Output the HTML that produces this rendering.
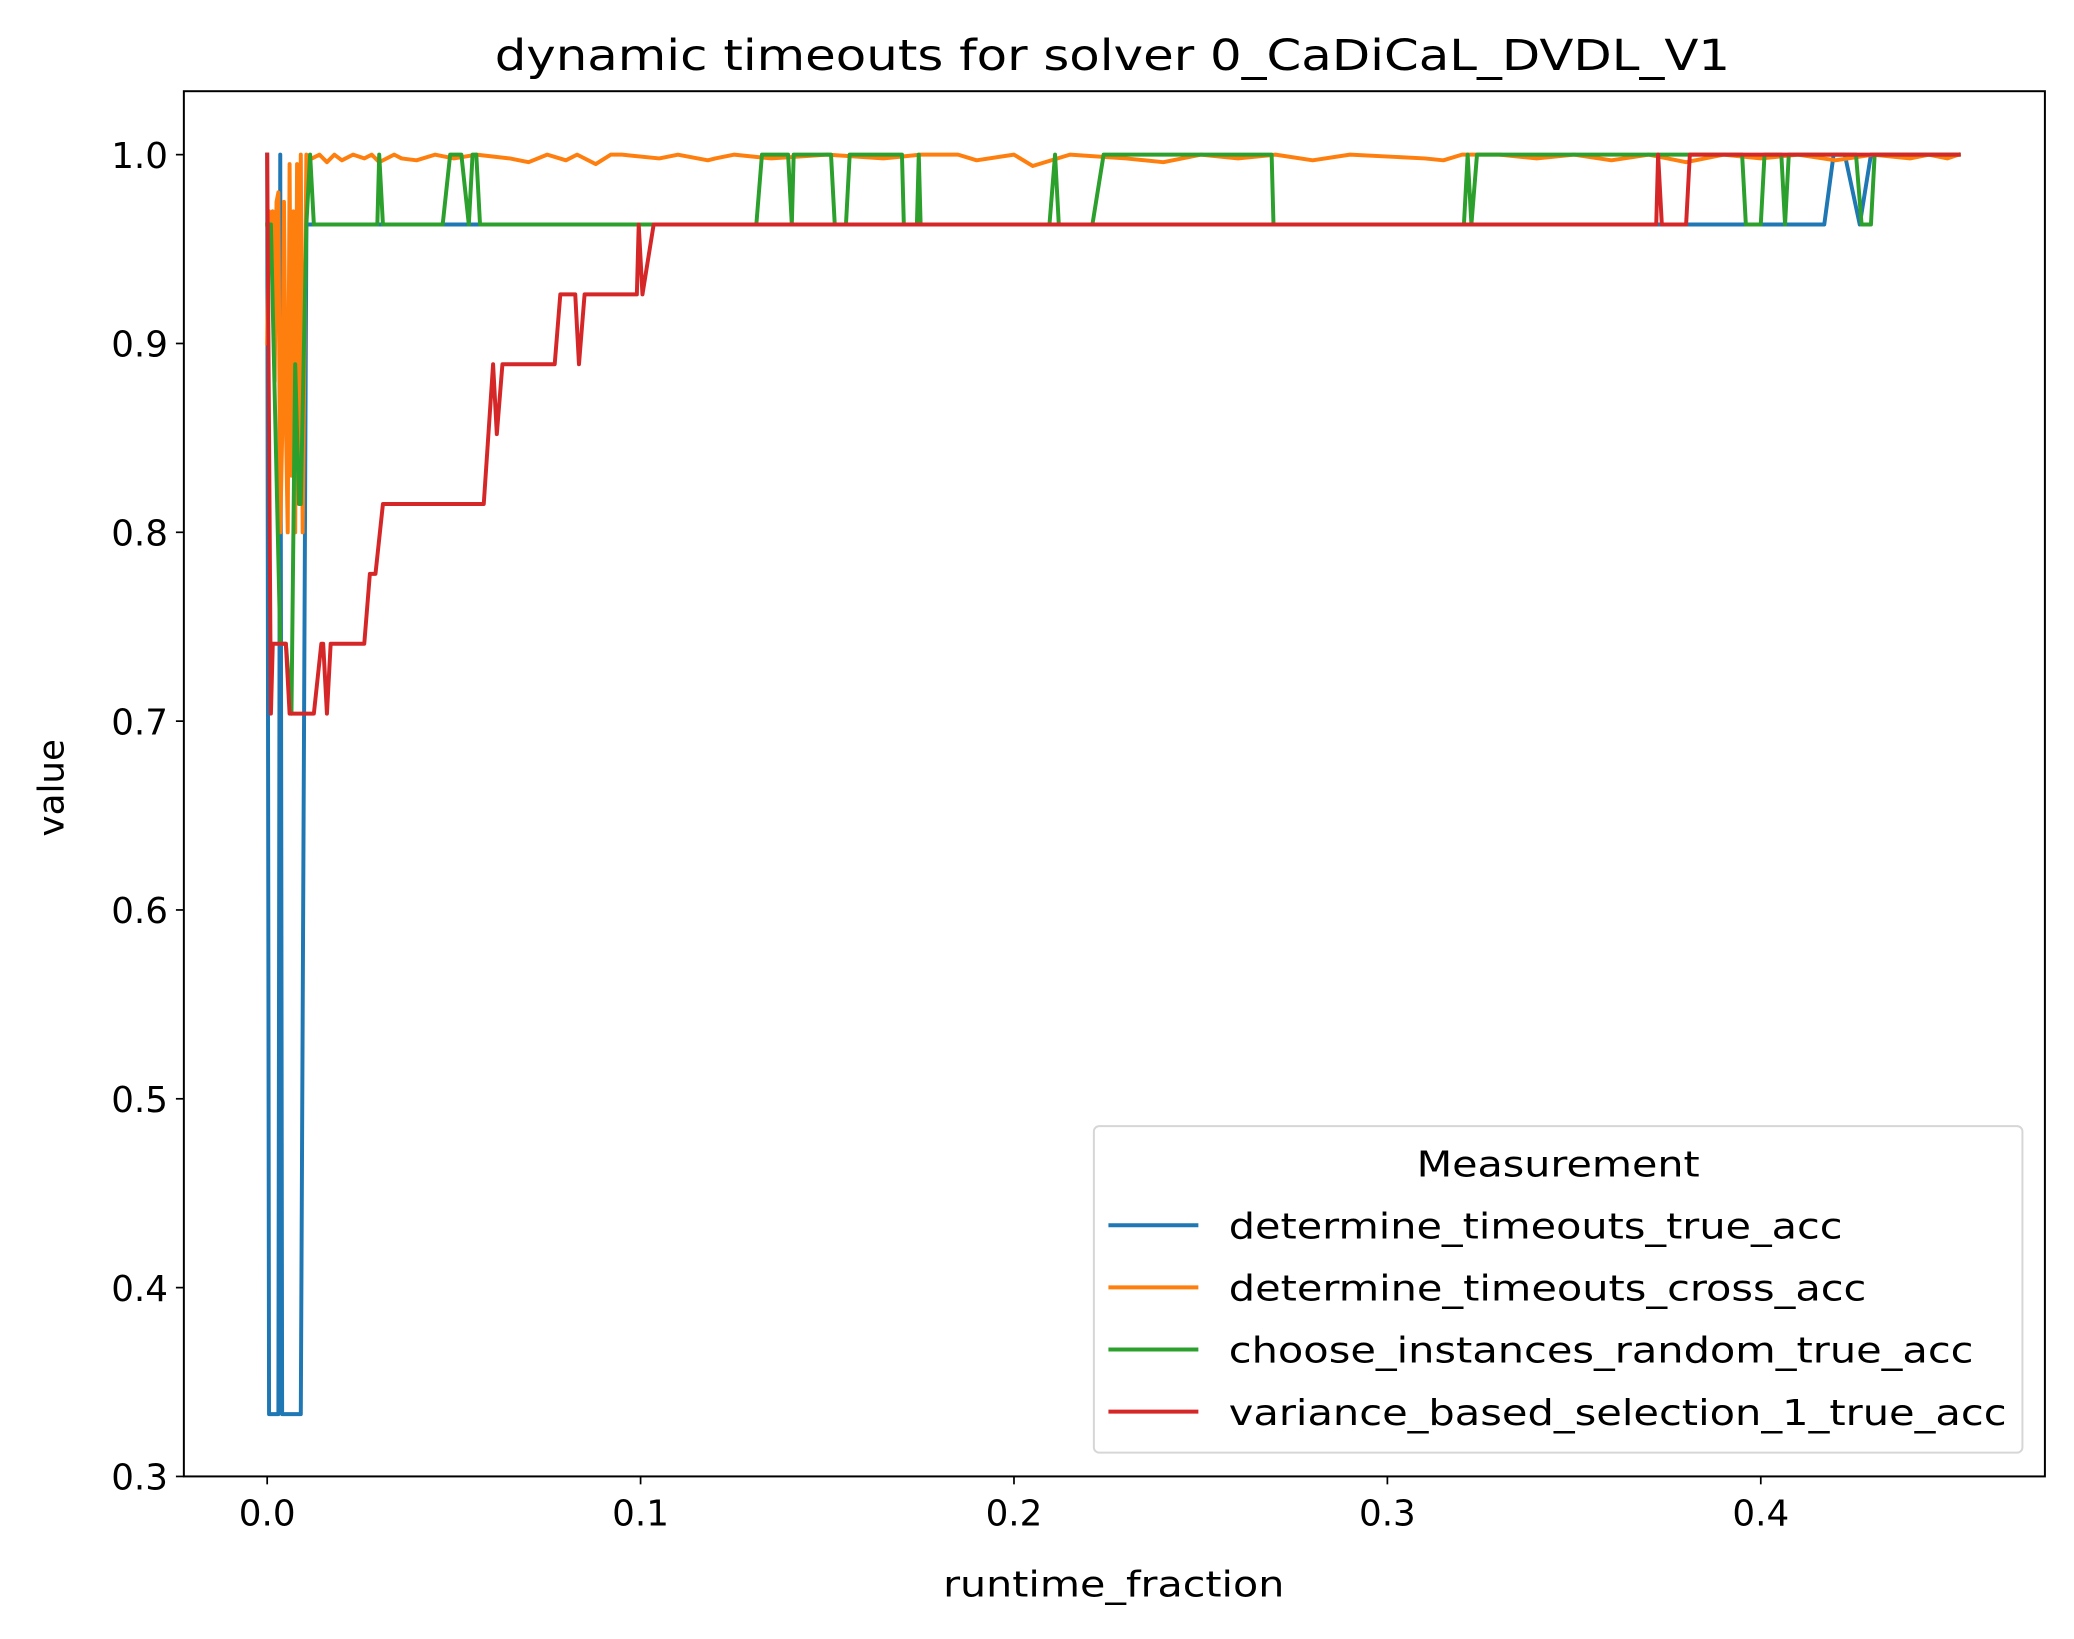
<!DOCTYPE html>
<html><head><meta charset="utf-8"><style>
html,body{margin:0;padding:0;background:#fff;}
svg{display:block;}
text{font-family:"DejaVu Sans","Liberation Sans",sans-serif;fill:#000;}
</style></head><body>
<svg id="chart" width="2074" height="1639" viewBox="0 0 1568 1240" preserveAspectRatio="none" xmlns="http://www.w3.org/2000/svg">
<rect x="0" y="0" width="1568" height="1240" fill="#fff"/>
<text x="841" y="53" font-size="32" text-anchor="middle" textLength="934" lengthAdjust="spacingAndGlyphs">dynamic timeouts for solver 0_CaDiCaL_DVDL_V1</text>
<g id="series"></g>
<g id="axes"></g>
<text x="842" y="1208" font-size="27" text-anchor="middle" textLength="258" lengthAdjust="spacingAndGlyphs">runtime_fraction</text>
<text x="0" y="0" font-size="27" text-anchor="middle" transform="translate(48,596) rotate(-90)">value</text>
<g>
<rect x="827" y="852" width="702" height="247" rx="4" fill="#fff" fill-opacity="0.8" stroke="#d6d6d6" stroke-width="1.5"/>
<text x="1178" y="890" font-size="27" text-anchor="middle" textLength="214" lengthAdjust="spacingAndGlyphs">Measurement</text>
<line x1="838" y1="927" x2="906" y2="927" stroke="#1f77b4" stroke-width="3"/>
<text x="929" y="937" font-size="27" textLength="464" lengthAdjust="spacingAndGlyphs">determine_timeouts_true_acc</text>
<line x1="838" y1="974" x2="906" y2="974" stroke="#ff7f0e" stroke-width="3"/>
<text x="929" y="984" font-size="27" textLength="482" lengthAdjust="spacingAndGlyphs">determine_timeouts_cross_acc</text>
<line x1="838" y1="1021" x2="906" y2="1021" stroke="#2ca02c" stroke-width="3"/>
<text x="929" y="1031" font-size="27" textLength="563" lengthAdjust="spacingAndGlyphs">choose_instances_random_true_acc</text>
<line x1="838" y1="1068" x2="906" y2="1068" stroke="#d62728" stroke-width="3"/>
<text x="929" y="1078" font-size="27" textLength="588" lengthAdjust="spacingAndGlyphs">variance_based_selection_1_true_acc</text>
</g>
</svg>
<script>
const xTicks = [0.0, 0.1, 0.2, 0.3, 0.4];
const xTickLabels = ["0.0", "0.1", "0.2", "0.3", "0.4"];
const yTicks = [0.3, 0.4, 0.5, 0.6, 0.7, 0.8, 0.9, 1.0];
const yTickLabels = ["0.3", "0.4", "0.5", "0.6", "0.7", "0.8", "0.9", "1.0"];

const blueX = [0, 0.0005, 0.003, 0.0035, 0.004, 0.009, 0.0105, 0.417, 0.4195, 0.4225, 0.4265, 0.4295, 0.453];
const blueY = [1.0, 0.333, 0.333, 1.0, 0.333, 0.333, 0.963, 0.963, 1.0, 1.0, 0.963, 1.0, 1.0];

const orangeX = [0, 0.0005, 0.001, 0.0015, 0.002, 0.0025, 0.003, 0.0035, 0.004, 0.0045, 0.005, 0.0055, 0.006, 0.0065, 0.007, 0.0075, 0.008, 0.0085, 0.009, 0.0095, 0.0105, 0.012, 0.014, 0.016, 0.018, 0.02, 0.023, 0.026, 0.028, 0.03, 0.034, 0.036, 0.04, 0.045, 0.05, 0.056, 0.065, 0.07, 0.075, 0.08, 0.083, 0.088, 0.092, 0.095, 0.105, 0.11, 0.118, 0.12, 0.125, 0.135, 0.15, 0.165, 0.175, 0.185, 0.19, 0.2, 0.205, 0.215, 0.23, 0.24, 0.25, 0.26, 0.27, 0.28, 0.29, 0.31, 0.315, 0.32, 0.33, 0.34, 0.35, 0.36, 0.37, 0.38, 0.39, 0.4, 0.41, 0.42, 0.43, 0.44, 0.445, 0.45, 0.453];
const orangeY = [0.9, 0.97, 0.96, 0.97, 0.88, 0.975, 0.98, 0.8, 0.85, 0.975, 0.86, 0.8, 0.995, 0.83, 0.97, 0.8, 0.995, 0.82, 1.0, 0.8, 1.0, 0.998, 1.0, 0.996, 1.0, 0.997, 1.0, 0.998, 1.0, 0.996, 1.0, 0.998, 0.997, 1.0, 0.998, 1.0, 0.998, 0.996, 1.0, 0.997, 1.0, 0.995, 1.0, 1.0, 0.998, 1.0, 0.997, 0.998, 1.0, 0.998, 1.0, 0.998, 1.0, 1.0, 0.997, 1.0, 0.994, 1.0, 0.998, 0.996, 1.0, 0.998, 1.0, 0.997, 1.0, 0.998, 0.997, 1.0, 1.0, 0.998, 1.0, 0.997, 1.0, 0.996, 1.0, 0.998, 1.0, 0.997, 1.0, 0.998, 1.0, 0.998, 1.0];

const greenX = [0, 0.001, 0.0035, 0.005, 0.0065, 0.0075, 0.0085, 0.009, 0.0105, 0.0115, 0.0125, 0.0295, 0.030, 0.031, 0.047, 0.049, 0.052, 0.054, 0.055, 0.056, 0.057, 0.131, 0.1325, 0.1395, 0.1405, 0.141, 0.151, 0.152, 0.155, 0.156, 0.170, 0.1705, 0.174, 0.1745, 0.175, 0.2095, 0.211, 0.212, 0.221, 0.224, 0.269, 0.2695, 0.3205, 0.3215, 0.3225, 0.324, 0.395, 0.396, 0.4, 0.401, 0.4055, 0.4065, 0.4075, 0.4255, 0.427, 0.4295, 0.4305, 0.453];
const greenY = [0.963, 0.963, 0.741, 0.741, 0.704, 0.889, 0.815, 0.815, 0.963, 1.0, 0.963, 0.963, 1.0, 0.963, 0.963, 1.0, 1.0, 0.963, 1.0, 1.0, 0.963, 0.963, 1.0, 1.0, 0.963, 1.0, 1.0, 0.963, 0.963, 1.0, 1.0, 0.963, 0.963, 1.0, 0.963, 0.963, 1.0, 0.963, 0.963, 1.0, 1.0, 0.963, 0.963, 1.0, 0.963, 1.0, 1.0, 0.963, 0.963, 1.0, 1.0, 0.963, 1.0, 1.0, 0.963, 0.963, 1.0, 1.0];

const redX = [0, 0.001, 0.0015, 0.005, 0.006, 0.0125, 0.0145, 0.015, 0.016, 0.017, 0.026, 0.0275, 0.029, 0.031, 0.058, 0.0605, 0.0615, 0.063, 0.077, 0.0785, 0.0825, 0.0835, 0.085, 0.099, 0.0995, 0.1005, 0.1035, 0.372, 0.3725, 0.3735, 0.375, 0.38, 0.381, 0.453];
const redY = [1.0, 0.704, 0.741, 0.741, 0.704, 0.704, 0.741, 0.741, 0.704, 0.741, 0.741, 0.778, 0.778, 0.815, 0.815, 0.889, 0.852, 0.889, 0.889, 0.926, 0.926, 0.889, 0.926, 0.926, 0.963, 0.926, 0.963, 0.963, 1.0, 0.963, 0.963, 0.963, 1.0, 1.0];

const NS = "http://www.w3.org/2000/svg";
const plotLeft = 139, plotRight = 1546, plotTop = 69, plotBottom = 1117;
function xScale(v) { return 202 + v * 2823; }
function yScale(v) { return 117 + (1.0 - v) * 1428.6; }

const seriesG = document.getElementById('series');
function drawSeries(xs, ys, color, name) {
  const p = document.createElementNS(NS, 'polyline');
  p.setAttribute('points', xs.map((x, i) => xScale(x).toFixed(2) + ',' + yScale(ys[i]).toFixed(2)).join(' '));
  p.setAttribute('fill', 'none');
  p.setAttribute('stroke', color);
  p.setAttribute('stroke-width', '3');
  p.setAttribute('stroke-linejoin', 'round');
  p.setAttribute('stroke-linecap', 'square');
  
  
  seriesG.appendChild(p);
}
drawSeries(blueX, blueY, '#1f77b4', 'series-determine-timeouts-true-acc');
drawSeries(orangeX, orangeY, '#ff7f0e', 'series-determine-timeouts-cross-acc');
drawSeries(greenX, greenY, '#2ca02c', 'series-choose-instances-random-true-acc');
drawSeries(redX, redY, '#d62728', 'series-variance-based-selection-true-acc');

const axesG = document.getElementById('axes');
const frame = document.createElementNS(NS, 'rect');
frame.setAttribute('x', plotLeft); frame.setAttribute('y', plotTop);
frame.setAttribute('width', plotRight - plotLeft); frame.setAttribute('height', plotBottom - plotTop);
frame.setAttribute('fill', 'none'); frame.setAttribute('stroke', '#000'); frame.setAttribute('stroke-width', '1.5');


axesG.appendChild(frame);

xTicks.forEach((v, i) => {
  const x = xScale(v);
  const t = document.createElementNS(NS, 'line');
  t.setAttribute('x1', x); t.setAttribute('x2', x); t.setAttribute('y1', plotBottom); t.setAttribute('y2', plotBottom + 6);
  t.setAttribute('stroke', '#000'); t.setAttribute('stroke-width', '1.3');
  
  
  axesG.appendChild(t);
  const l = document.createElementNS(NS, 'text');
  l.setAttribute('x', x); l.setAttribute('y', plotBottom + 37);
  l.setAttribute('font-size', '27'); l.setAttribute('text-anchor', 'middle');
  l.textContent = xTickLabels[i];
  
  
  axesG.appendChild(l);
});
yTicks.forEach((v, i) => {
  const y = yScale(v);
  const t = document.createElementNS(NS, 'line');
  t.setAttribute('x1', plotLeft - 6); t.setAttribute('x2', plotLeft); t.setAttribute('y1', y); t.setAttribute('y2', y);
  t.setAttribute('stroke', '#000'); t.setAttribute('stroke-width', '1.3');
  
  
  axesG.appendChild(t);
  const l = document.createElementNS(NS, 'text');
  l.setAttribute('x', plotLeft - 12); l.setAttribute('y', y + 10);
  l.setAttribute('font-size', '27'); l.setAttribute('text-anchor', 'end');
  l.textContent = yTickLabels[i];
  
  
  axesG.appendChild(l);
});
</script>
</body></html>
